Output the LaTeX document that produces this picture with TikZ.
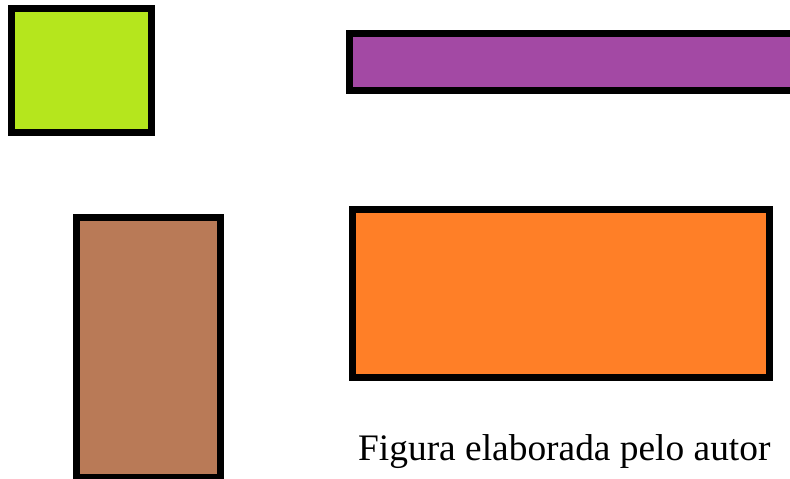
\documentclass[tikz,border=0pt]{standalone}
\usepackage{fontspec}
\setmainfont{Liberation Serif}
\definecolor{limeg}{HTML}{B5E61D}
\definecolor{purp}{HTML}{A349A4}
\definecolor{brwn}{HTML}{B97A57}
\definecolor{orng}{HTML}{FF7F27}
\tikzset{blk/.style={draw=black, line width=7pt, rectangle, inner sep=0pt, anchor=center}}
\begin{document}
\begin{tikzpicture}[x=1pt, y=-1pt]
\useasboundingbox (0,0) rectangle (790,479);
\clip (0,0) rectangle (790,479);
\fill[white] (0,0) rectangle (790,479);
\node[blk, fill=limeg, minimum width=140pt, minimum height=124pt] (green) at (81.5,70.5) {};
\node[blk, fill=purp, minimum width=450pt, minimum height=57pt] (purple) at (574.75,62) {};
\node[blk, fill=brwn, minimum width=144pt, minimum height=260pt] (brown) at (148.5,347.5) {};
\node[blk, fill=orng, minimum width=417pt, minimum height=168pt] (orange) at (561,293.5) {};
\node[anchor=base west, inner sep=0pt, font=\fontsize{37.4}{40}\selectfont] (caption) at (358,460) {Figura elaborada pelo autor};
\end{tikzpicture}
\end{document}
